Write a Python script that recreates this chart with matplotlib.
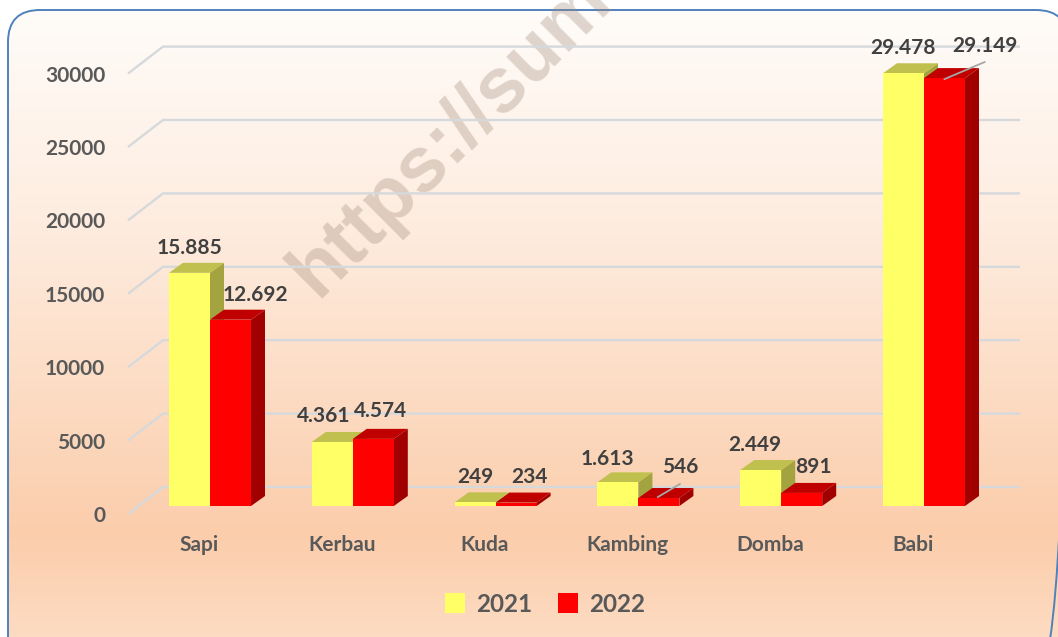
import numpy as np
import matplotlib
matplotlib.use("Agg")
import matplotlib.pyplot as plt
from matplotlib.patches import FancyBboxPatch, Polygon, Patch
from matplotlib.colors import LinearSegmentedColormap

categories = ["Sapi", "Kerbau", "Kuda", "Kambing", "Domba", "Babi"]
values_2021 = [15885, 4361, 249, 1613, 2449, 29478]
values_2022 = [12692, 4574, 234, 546, 891, 29149]
y_ticks = [0, 5000, 10000, 15000, 20000, 25000, 30000]
series_names = ["2021", "2022"]

W, H = 1058, 637
plt.rcParams['font.family'] = ['Lato', 'DejaVu Sans']
fig = plt.figure(figsize=(W / 100, H / 100), dpi=100, facecolor='white')

# background panel
bg = fig.add_axes([0, 0, 1, 1], zorder=0)
bg.set_xlim(0, W); bg.set_ylim(H, 0); bg.axis('off')
cmap = LinearSegmentedColormap.from_list('g', [(0, '#FFFCF9'), (0.3, '#FEEEE2'), (0.55, '#FDDFC9'),
                                               (0.82, '#FBCDAB'), (1, '#FDDDC5')])
im = bg.imshow(np.linspace(0, 1, 256)[:, None], cmap=cmap, extent=(8, W + 30, 650, 10), aspect='auto')
box = FancyBboxPatch((8 + 32, 10 + 32), W + 40 - 8 - 64 - 30, 650 - 10 - 64 + 30,
                     boxstyle="round,pad=32,rounding_size=32", transform=bg.transData,
                     fc='none', ec='#4F81BD', lw=1.4, zorder=3, clip_on=True)
bg.add_patch(box)
im.set_clip_path(box)
bg.set_xlim(0, W); bg.set_ylim(H, 0)

# watermark
fig.text(317 / W, 1 - 299 / H, "https://sumut.bps.go.id", fontsize=56, rotation=45, family='Liberation Sans',
         weight='bold', color='#A08878', alpha=0.33, ha='left', va='baseline', rotation_mode='anchor', zorder=1)

# chart axes
L, R, B, T = 128, 1020, 514, 47
PX_CAT, PX_VAL = 142.8, 73.4 / 5000
ax = fig.add_axes([L / W, 1 - B / H, (R - L) / W, (B - T) / H], zorder=2)
ax.patch.set_alpha(0)
ax.set_xlim((L - 199) / PX_CAT, (R - 199) / PX_CAT)
ax.set_ylim(0, (B - T) / PX_VAL)
for s in ax.spines.values():
    s.set_visible(False)

def dx(px): return px / PX_CAT
def dy(px): return px / PX_VAL

xmin, xmax = ax.get_xlim()
for t in y_ticks:
    ax.plot([xmin, xmin + dx(35), xmax], [t, t + dy(27), t + dy(27)], color='#D6D9DC', lw=1.7,
            clip_on=False, zorder=1, solid_capstyle='butt')

ax.set_xticks(range(len(categories)), categories)
ax.set_yticks(y_ticks)
ax.tick_params(axis='x', length=0, pad=15, labelsize=15, labelcolor='#595959')
ax.tick_params(axis='y', length=0, pad=16.5, labelsize=15, labelcolor='#595959')
for lab in ax.get_xticklabels() + ax.get_yticklabels():
    lab.set_fontweight('bold')

OX, OY, BW, DX, DY = dx(11), dy(8), dx(41), dx(14), dy(10)
styles = [dict(front='#FFFF66', top='#C0C04E', side='#A3A33F'),
          dict(front='#FF0000', top='#C00000', side='#A00000')]

def bar3d(x0, v, st, z):
    y0 = OY
    y1 = y0 + v
    ax.bar(x0, v, BW, bottom=y0, align='edge', color=st['front'], zorder=z + 0.2, lw=0)
    ax.add_patch(Polygon([(x0, y1), (x0 + BW, y1), (x0 + BW + DX, y1 + DY), (x0 + DX, y1 + DY)],
                         fc=st['top'], lw=0, zorder=z + 0.1))
    ax.add_patch(Polygon([(x0 + BW, y0), (x0 + BW + DX, y0 + DY), (x0 + BW + DX, y1 + DY), (x0 + BW, y1)],
                         fc=st['side'], lw=0, zorder=z))

# label offsets in pixels from the top centre of each bar's front face
off_2021 = [(0, 25), (-8.5, 26), (0, 25), (-11, 23), (-6, 25), (-0.5, 25)]
off_2022 = [(24.5, 25), (7.5, 28), (13, 25.6), (21, 31), (12, 26), (40.5, 32)]

def fmt(v):
    return f"{v:,}".replace(",", ".")

for i in range(len(categories)):
    x_mid = i + OX
    bar3d(x_mid - BW, values_2021[i], styles[0], 2)
    bar3d(x_mid, values_2022[i], styles[1], 3)
    for v, off, x0 in ((values_2021[i], off_2021[i], x_mid - BW / 2), (values_2022[i], off_2022[i], x_mid + BW / 2)):
        ax.annotate(fmt(v), (x0, OY + v), xytext=(off[0] * 0.72, off[1] * 0.72), textcoords='offset points',
                    ha='center', va='center', fontsize=15, fontweight='bold', color='#404040',
                    zorder=6, annotation_clip=False)

# leader lines for the two labels set away from their bars
for i, (a, b) in {3: ((-1, 1), (21, 14)), 5: ((0, -1), (40, 16))}.items():
    v = values_2022[i]
    xc = i + OX + BW / 2
    ax.plot([xc + dx(a[0]), xc + dx(b[0])], [OY + v + dy(a[1]), OY + v + dy(b[1])],
            color='#A6A6A6', lw=1.3, zorder=5, clip_on=False)

handles = [Patch(fc=styles[0]['front'], lw=0, label=series_names[0]),
           Patch(fc=styles[1]['front'], lw=0, label=series_names[1])]
fig.legend(handles=handles, ncol=2, frameon=False, loc='center', bbox_to_anchor=(545 / W, 1 - 604 / H),
           prop=dict(size=17.5, weight='bold'), labelcolor='#595959', handlelength=0.85, handleheight=0.85,
           handletextpad=0.45, columnspacing=1.05, borderpad=0)

fig.savefig('out.png', dpi=100, facecolor='white')
